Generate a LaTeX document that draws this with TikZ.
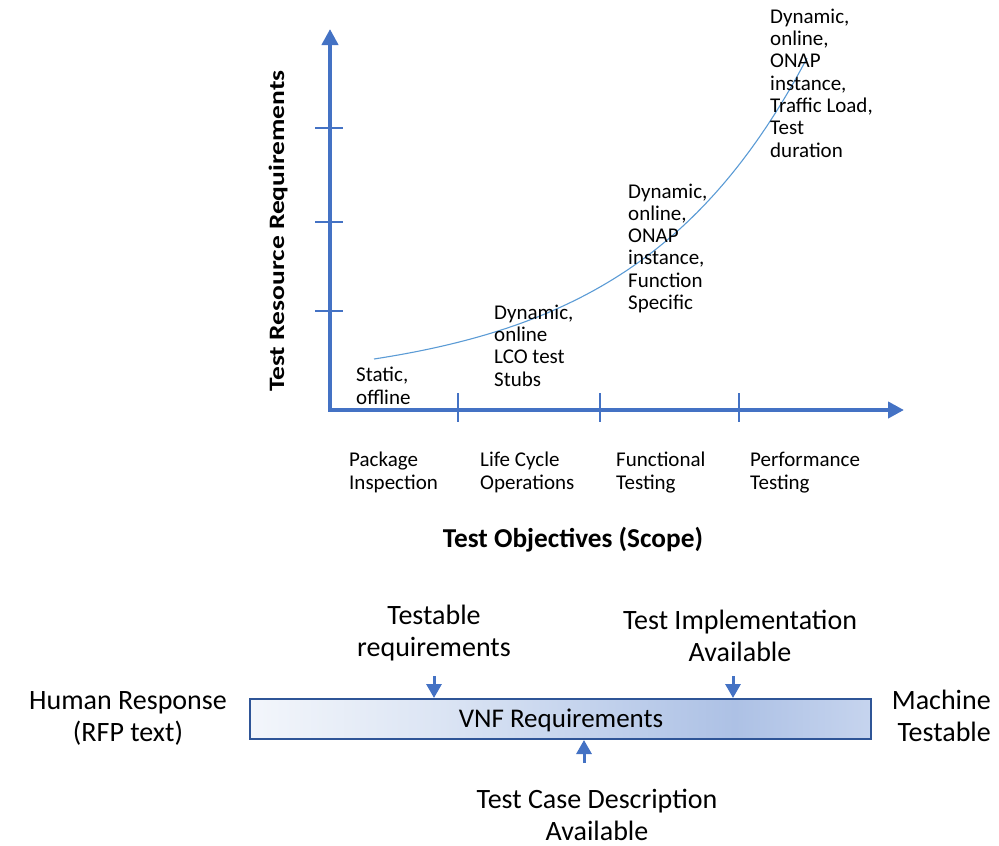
\documentclass[tikz,border=0pt]{standalone}
\usepackage{fontspec}
\setmainfont{Carlito}
\usetikzlibrary{arrows.meta}
\definecolor{axisblue}{HTML}{4472C4}
\definecolor{curveblue}{HTML}{5B9BD5}
\definecolor{boxedge}{HTML}{2F5597}
\definecolor{gA}{HTML}{F3F6FB}
\definecolor{gB}{HTML}{DCE5F4}
\definecolor{gC}{HTML}{C8D6EE}
\definecolor{gD}{HTML}{ADC1E5}
\definecolor{gE}{HTML}{C6D4EE}
\pgfdeclarehorizontalshading{vnfshade}{100bp}{color(0bp)=(gA); color(25bp)=(gA); color(40bp)=(gB); color(50bp)=(gC); color(64bp)=(gD); color(75bp)=(gE); color(100bp)=(gE)}
\begin{document}
\begin{tikzpicture}[x=1pt,y=-1pt,
  axisline/.style={draw=axisblue, line width=4pt, line join=miter},
  tickline/.style={draw=axisblue, line width=1.3pt},
  curveline/.style={draw=curveblue, line width=1.1pt},
  lbl/.style={font=\fontsize{21}{22.3}\selectfont, align=left, inner sep=0pt, anchor=base west},
  biglbl/.style={font=\fontsize{28}{32}\selectfont, inner sep=0pt},
  smarrow/.style={draw=axisblue, line width=3pt, -{Triangle[length=14pt,width=15pt]}},
  vnfbox/.style={draw=boxedge, line width=2pt, shading=vnfshade, minimum width=621pt, minimum height=40pt, inner sep=0pt, anchor=north west}
]
\useasboundingbox (0,0) rectangle (999,846);

% axes
\coordinate (O) at (330,410);
\coordinate (ytip) at (330,29);
\coordinate (xtip) at (904,410);
\draw[axisline, {Triangle[length=16pt,width=16pt]}-{Triangle[length=16pt,width=16pt]}] (ytip) -- (O) -- (xtip);

% ticks
\foreach \yy/\nm in {128/ya,222/yb,311/yc}{
  \coordinate (\nm l) at (315,\yy);
  \coordinate (\nm r) at (343,\yy);
  \draw[tickline] (\nm l) -- (\nm r);
}
\foreach \xx/\nm in {458/xa,600/xb,739/xc}{
  \coordinate (\nm t) at (\xx,393);
  \coordinate (\nm b) at (\xx,422);
  \draw[tickline] (\nm t) -- (\nm b);
}

% curve
\draw[curveline] plot[domain=0:433, samples=80, smooth] ({374+\x},{359-26.6*(exp(0.0058*\x)-1)});

% curve labels (anchored at the baseline of the last line)
\node[lbl] (s1) at (356,404) {Static,\\offline};
\node[lbl] (s2) at (494,386) {Dynamic,\\online\\LCO test\\Stubs};
\node[lbl] (s3) at (628,309.5) {Dynamic,\\online,\\ONAP\\instance,\\Function\\Specific};
\node[lbl] (s4) at (770,157) {Dynamic,\\online,\\ONAP\\instance,\\Traffic Load,\\Test\\duration};

% category labels
\node[lbl] (c1) at (349,489) {Package\\Inspection};
\node[lbl] (c2) at (480,489) {Life Cycle\\Operations};
\node[lbl] (c3) at (616,489) {Functional\\Testing};
\node[lbl] (c4) at (750,489) {Performance\\Testing};

% axis titles
\node[font=\fontsize{27.3}{30}\selectfont\bfseries, inner sep=0pt, anchor=base] (xt) at (573,547) {Test Objectives (Scope)};
\node[inner sep=0pt, anchor=base, rotate=90] (yt) at (284,231) {\scalebox{1.25}[1]{\fontsize{22}{26}\selectfont\bfseries Test Resource Requirements}};

% bottom bar
\node[vnfbox] (box) at (249,698) {};
\node[font=\fontsize{27}{30}\selectfont, inner sep=0pt, anchor=base] (vnf) at (561,727) {VNF Requirements};

\node[biglbl, align=center, anchor=base] (tr) at (434,656) {Testable\\requirements};
\node[biglbl, align=center, anchor=base] (ti) at (740,661) {Test Implementation\\Available};
\node[biglbl, align=center, anchor=base] (hr) at (128,741) {Human Response\\(RFP text)};
\node[biglbl, align=right, anchor=base east] (mt) at (991,741) {Machine\\Testable};
\node[biglbl, align=center, anchor=base] (tc) at (597,840) {Test Case Description\\Available};

\coordinate (a1) at (434,676);
\coordinate (a2) at (733,676);
\coordinate (a3) at (584,763);
\draw[smarrow] (a1) -- (a1 |- box.north);
\draw[smarrow] (a2) -- (a2 |- box.north);
\draw[smarrow] (a3) -- (a3 |- box.south);
\end{tikzpicture}
\end{document}
